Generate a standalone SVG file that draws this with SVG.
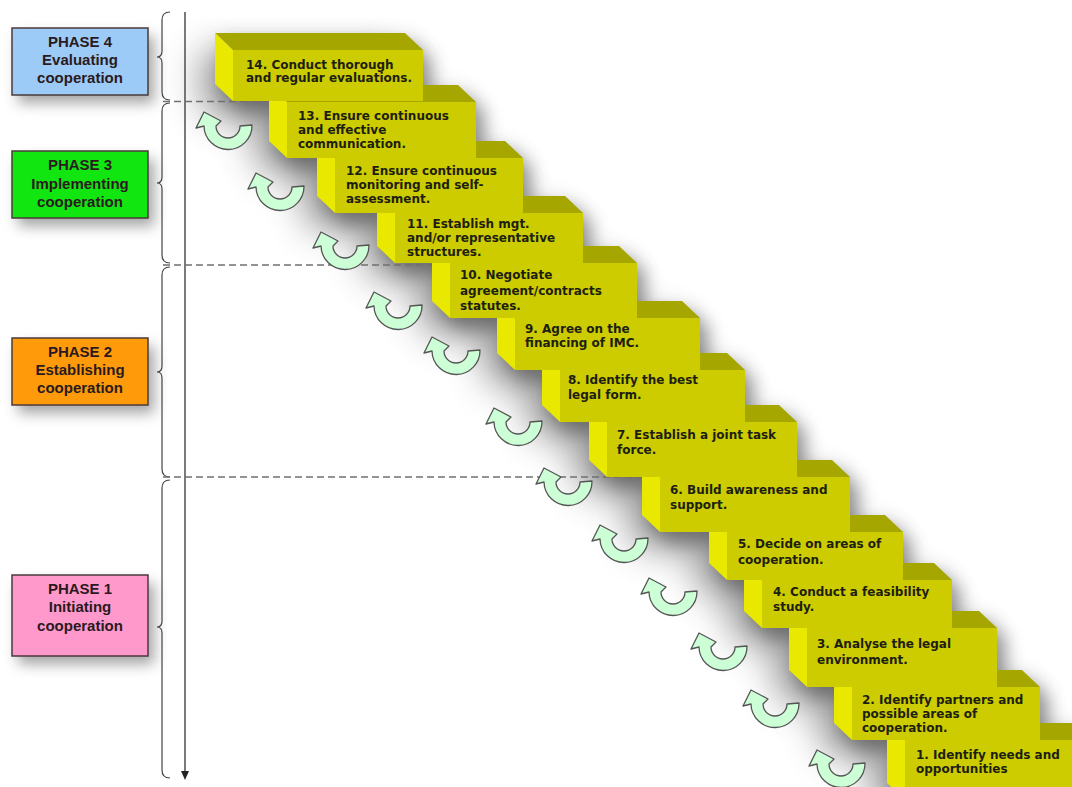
<svg xmlns="http://www.w3.org/2000/svg" xmlns:xlink="http://www.w3.org/1999/xlink" width="1072" height="787" viewBox="0 0 1072 787">
<defs>
<filter id="blurBig" filterUnits="userSpaceOnUse" x="0" y="0" width="1200" height="900"><feGaussianBlur stdDeviation="18"/></filter>
<filter id="blurMid" filterUnits="userSpaceOnUse" x="0" y="0" width="1200" height="900"><feGaussianBlur stdDeviation="9"/></filter>
<filter id="blurBox" x="-30%" y="-30%" width="160%" height="160%"><feGaussianBlur stdDeviation="7"/></filter>
<path id="curl" d="M57 13 A24 24 0 0 1 9 14 L1 16 L9 0 L26 9 L21 14 A12 12 0 0 0 45 14 Z"/>
<polygon id="stairOutline" points="215,33 405,33 423,50 423,85 458,85 476,102 476,141 505,141 523,158 523,196 565,196 583,213 583,246 619,246 637,263 637,301 682,301 700,318 700,353 727,353 745,370 745,405 779,405 797,422 797,460 832,460 850,477 850,515 885,515 903,532 903,563 934,563 952,580 952,611 979,611 997,628 997,670 1022,670 1040,687 1040,723 1072,723 1090,740 1090,800 905,800 887,783 887,740 852,740 834,723 834,687 807,687 789,670 789,628 762,628 744,611 744,580 727,580 709,563 709,532 660,532 642,515 642,477 607,477 589,460 589,422 560,422 542,405 542,370 515,370 497,353 497,318 450,318 432,301 432,263 395,263 377,246 377,213 335,213 317,196 317,158 287,158 269,141 269,102 233,102 215,85"/>
</defs>
<style>
.front{fill:#cccc00;}
.side{fill:#e8e800;}
.top{fill:#a6a600;}
.st{font-family:"DejaVu Sans",Verdana,sans-serif;font-weight:bold;font-size:12px;fill:#1e1e10;}
.ph{font-family:"Liberation Sans",Arial,sans-serif;font-weight:bold;font-size:15px;fill:#2a1a20;text-anchor:middle;}
.box{stroke:#4a3a3a;stroke-width:1.5;}
.brace{fill:none;stroke:#444;stroke-width:1.2;}
.dash{stroke:#707070;stroke-width:1.6;stroke-dasharray:7 4;fill:none;}
.curl{fill:#ccffd6;stroke:#555;stroke-width:1.3;stroke-linejoin:round;}
</style>
<rect width="1072" height="787" fill="#ffffff"/>

<!-- stair shadow -->
<g id="stairShadow">
<use xlink:href="#stairOutline" fill="#555" opacity="0.6" filter="url(#blurBig)" transform="translate(-14,18)"/>
<use xlink:href="#stairOutline" fill="#444" opacity="0.55" filter="url(#blurMid)" transform="translate(8,10)"/>
</g>

<!-- phase boxes -->
<g id="phase4">
<rect x="18" y="36" width="136" height="67" fill="#666" opacity="0.6" filter="url(#blurBox)"/>
<rect class="box" x="12" y="28" width="136" height="67" fill="#9dcbf7"/>
<text class="ph" x="80" y="47">PHASE 4</text>
<text class="ph" x="80" y="65">Evaluating</text>
<text class="ph" x="80" y="83">cooperation</text>
</g>
<g id="phase3">
<rect x="18" y="159" width="136" height="67" fill="#666" opacity="0.6" filter="url(#blurBox)"/>
<rect class="box" x="12" y="151" width="136" height="67" fill="#11e611"/>
<text class="ph" x="80" y="170">PHASE 3</text>
<text class="ph" x="80" y="189">Implementing</text>
<text class="ph" x="80" y="207">cooperation</text>
</g>
<g id="phase2">
<rect x="18" y="346" width="136" height="67" fill="#666" opacity="0.6" filter="url(#blurBox)"/>
<rect class="box" x="12" y="338" width="136" height="67" fill="#ff9a0a"/>
<text class="ph" x="80" y="357">PHASE 2</text>
<text class="ph" x="80" y="375">Establishing</text>
<text class="ph" x="80" y="393">cooperation</text>
</g>
<g id="phase1">
<rect x="18" y="583" width="136" height="81" fill="#666" opacity="0.6" filter="url(#blurBox)"/>
<rect class="box" x="12" y="575" width="136" height="81" fill="#ff99cc"/>
<text class="ph" x="80" y="594">PHASE 1</text>
<text class="ph" x="80" y="612">Initiating</text>
<text class="ph" x="80" y="631">cooperation</text>
</g>

<!-- braces, timeline, dashed separators -->
<g id="connectors">
<path class="brace" d="M170 12 Q162 12 162 20 L162 51 Q162 57 157 57 Q162 57 162 63 L162 92 Q162 100 170 100"/>
<path class="brace" d="M170 103 Q162 103 162 111 L162 177 Q162 183 157 183 Q162 183 162 189 L162 255 Q162 263 170 263"/>
<path class="brace" d="M170 267 Q162 267 162 275 L162 366 Q162 372 157 372 Q162 372 162 378 L162 469 Q162 477 170 477"/>
<path class="brace" d="M170 480 Q162 480 162 488 L162 621 Q162 627 157 627 Q162 627 162 633 L162 770 Q162 778 170 778"/>
<line x1="185" y1="12" x2="185" y2="772" stroke="#333" stroke-width="1.3"/>
<polygon points="181,771 189,771 185,780" fill="#222"/>
<line class="dash" x1="163" y1="101.5" x2="290" y2="101.5"/>
<line class="dash" x1="163" y1="265" x2="450" y2="265"/>
<line class="dash" x1="163" y1="477" x2="660" y2="477"/>
</g>

<!-- curl arrows -->
<g id="curls">
<use xlink:href="#curl" class="curl" x="195" y="112"/>
<use xlink:href="#curl" class="curl" x="247" y="173"/>
<use xlink:href="#curl" class="curl" x="312" y="232"/>
<use xlink:href="#curl" class="curl" x="365" y="292"/>
<use xlink:href="#curl" class="curl" x="423" y="337"/>
<use xlink:href="#curl" class="curl" x="485" y="408"/>
<use xlink:href="#curl" class="curl" x="535" y="468"/>
<use xlink:href="#curl" class="curl" x="591" y="525"/>
<use xlink:href="#curl" class="curl" x="640" y="578"/>
<use xlink:href="#curl" class="curl" x="690" y="633"/>
<use xlink:href="#curl" class="curl" x="742" y="690"/>
<use xlink:href="#curl" class="curl" x="808" y="750"/>
</g>

<!-- steps, drawn from bottom to top -->
<g id="step1">
<polygon class="top" points="887,723 1072,723 1090,740 905,740"/>
<polygon class="side" points="887,723 905,740 905,800 887,783"/>
<rect class="front" x="905" y="740" width="185" height="60"/>
<text class="st" x="916" y="759">1. Identify needs and</text>
<text class="st" x="916" y="773">opportunities</text>
</g>
<g id="step2">
<polygon class="top" points="834,670 1022,670 1040,687 852,687"/>
<polygon class="side" points="834,670 852,687 852,740 834,723"/>
<rect class="front" x="852" y="687" width="188" height="53"/>
<text class="st" x="862" y="704">2. Identify partners and</text>
<text class="st" x="862" y="718">possible areas of</text>
<text class="st" x="862" y="732">cooperation.</text>
</g>
<g id="step3">
<polygon class="top" points="789,611 979,611 997,628 807,628"/>
<polygon class="side" points="789,611 807,628 807,687 789,670"/>
<rect class="front" x="807" y="628" width="190" height="59"/>
<text class="st" x="817" y="648">3. Analyse the legal</text>
<text class="st" x="817" y="664">environment.</text>
</g>
<g id="step4">
<polygon class="top" points="744,563 934,563 952,580 762,580"/>
<polygon class="side" points="744,563 762,580 762,628 744,611"/>
<rect class="front" x="762" y="580" width="190" height="48"/>
<text class="st" x="773" y="596">4. Conduct a feasibility</text>
<text class="st" x="773" y="611">study.</text>
</g>
<g id="step5">
<polygon class="top" points="709,515 885,515 903,532 727,532"/>
<polygon class="side" points="709,515 727,532 727,580 709,563"/>
<rect class="front" x="727" y="532" width="176" height="48"/>
<text class="st" x="738" y="548">5. Decide on areas of</text>
<text class="st" x="738" y="564">cooperation.</text>
</g>
<g id="step6">
<polygon class="top" points="642,460 832,460 850,477 660,477"/>
<polygon class="side" points="642,460 660,477 660,532 642,515"/>
<rect class="front" x="660" y="477" width="190" height="55"/>
<text class="st" x="670" y="494">6. Build awareness and</text>
<text class="st" x="670" y="509">support.</text>
</g>
<g id="step7">
<polygon class="top" points="589,405 779,405 797,422 607,422"/>
<polygon class="side" points="589,405 607,422 607,477 589,460"/>
<rect class="front" x="607" y="422" width="190" height="55"/>
<text class="st" x="617" y="439">7. Establish a joint task</text>
<text class="st" x="617" y="454">force.</text>
</g>
<g id="step8">
<polygon class="top" points="542,353 727,353 745,370 560,370"/>
<polygon class="side" points="542,353 560,370 560,422 542,405"/>
<rect class="front" x="560" y="370" width="185" height="52"/>
<text class="st" x="568" y="384">8. Identify the best</text>
<text class="st" x="568" y="399">legal form.</text>
</g>
<g id="step9">
<polygon class="top" points="497,301 682,301 700,318 515,318"/>
<polygon class="side" points="497,301 515,318 515,370 497,353"/>
<rect class="front" x="515" y="318" width="185" height="52"/>
<text class="st" x="525" y="333">9. Agree on the</text>
<text class="st" x="525" y="347">financing of IMC.</text>
</g>
<g id="step10">
<polygon class="top" points="432,246 619,246 637,263 450,263"/>
<polygon class="side" points="432,246 450,263 450,318 432,301"/>
<rect class="front" x="450" y="263" width="187" height="55"/>
<text class="st" x="460" y="279">10. Negotiate</text>
<text class="st" x="460" y="295">agreement/contracts</text>
<text class="st" x="460" y="310">statutes.</text>
</g>
<g id="step11">
<polygon class="top" points="377,196 565,196 583,213 395,213"/>
<polygon class="side" points="377,196 395,213 395,263 377,246"/>
<rect class="front" x="395" y="213" width="188" height="50"/>
<text class="st" x="407" y="228">11. Establish mgt.</text>
<text class="st" x="407" y="242">and/or representative</text>
<text class="st" x="407" y="256">structures.</text>
</g>
<g id="step12">
<polygon class="top" points="317,141 505,141 523,158 335,158"/>
<polygon class="side" points="317,141 335,158 335,213 317,196"/>
<rect class="front" x="335" y="158" width="188" height="55"/>
<text class="st" x="346" y="175">12. Ensure continuous</text>
<text class="st" x="346" y="189">monitoring and self-</text>
<text class="st" x="346" y="203">assessment.</text>
</g>
<g id="step13">
<polygon class="top" points="269,85 458,85 476,102 287,102"/>
<polygon class="side" points="269,85 287,102 287,158 269,141"/>
<rect class="front" x="287" y="102" width="189" height="56"/>
<text class="st" x="298" y="120">13. Ensure continuous</text>
<text class="st" x="298" y="134">and effective</text>
<text class="st" x="298" y="148">communication.</text>
</g>
<g id="step14">
<polygon class="top" points="215,33 405,33 423,50 233,50"/>
<polygon class="side" points="215,33 233,50 233,101 215,84"/>
<rect class="front" x="233" y="50" width="190" height="51"/>
<text class="st" x="246" y="69">14. Conduct thorough</text>
<text class="st" x="246" y="82">and regular evaluations.</text>
</g>
</svg>
